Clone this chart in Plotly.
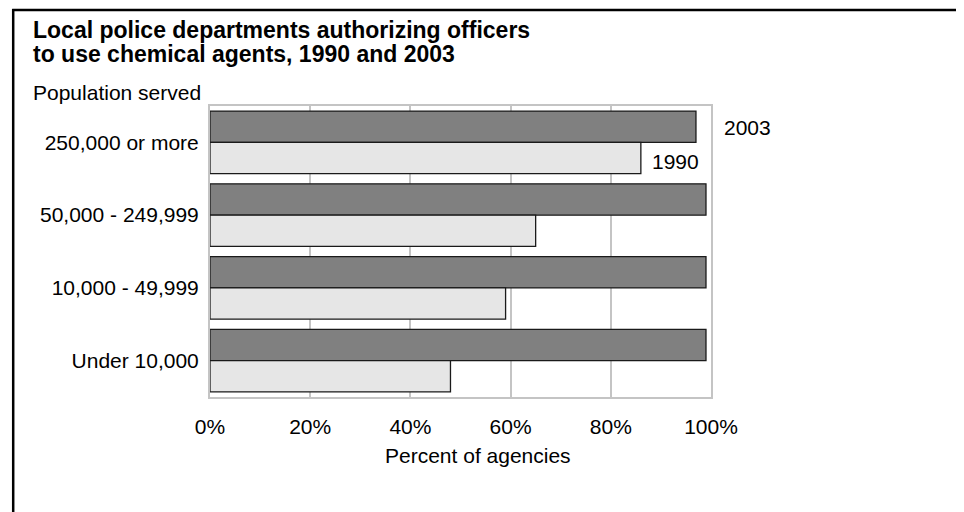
import plotly.graph_objects as go

# --- data ------------------------------------------------------------------
categories = ["250,000 or more", "50,000 - 249,999", "10,000 - 49,999", "Under 10,000"]
pct_2003 = [97, 99, 99, 99]
pct_1990 = [86, 65, 59, 48]
x_ticks = [0, 20, 40, 60, 80, 100]
x_tick_labels = ["0%", "20%", "40%", "60%", "80%", "100%"]

title_lines = ["Local police departments authorizing officers",
               "to use chemical agents, 1990 and 2003"]

W, H = 964, 512
OFF = 8  # page body margin: the figure starts 8px in from the window corner
# plot area in window pixels
PL, PR, PT, PB = 209.5, 711.0, 106.0, 397.0
FONT = "Liberation Sans, Arial, Helvetica, sans-serif"


def px(x):
    return (x - PL) / (PR - PL)


def py(y):
    return (PB - y) / (PB - PT)


fig = go.Figure()
fig.add_trace(go.Bar(
    y=categories, x=pct_2003, orientation="h", name="2003",
    marker=dict(color="#808080", line=dict(color="#1a1a1a", width=1.3)),
    hoverinfo="x+y"))
fig.add_trace(go.Bar(
    y=categories, x=pct_1990, orientation="h", name="1990",
    marker=dict(color="#e6e6e6", line=dict(color="#1a1a1a", width=1.3)),
    hoverinfo="x+y"))

grid = "#c4c4c4"
fig.update_xaxes(range=[0, 100], tickvals=x_ticks, ticktext=x_tick_labels,
                 showgrid=True, gridcolor=grid, gridwidth=2,
                 zeroline=False, showline=True, linecolor=grid, linewidth=2,
                 mirror=True, ticks="", ticklabelstandoff=10,
                 tickfont=dict(family=FONT, size=21, color="#000"))
fig.update_yaxes(autorange="reversed", showgrid=False, zeroline=False,
                 showline=True, linecolor=grid, linewidth=2, mirror=True,
                 ticks="", ticklabelstandoff=5,
                 tickfont=dict(family=FONT, size=21, color="#000"))

ann = []
# title, two tightly spaced lines
for txt, yc in zip(title_lines, (30, 54)):
    ann.append(dict(text=f"<b>{txt}</b>", xref="paper", yref="paper",
                    x=px(30), y=py(yc), xanchor="left", yanchor="middle",
                    showarrow=False, font=dict(family=FONT, size=23, color="#000")))
ann.append(dict(text="Population served", xref="paper", yref="paper",
                x=px(30), y=py(93), xanchor="left", yanchor="middle",
                showarrow=False, font=dict(family=FONT, size=21, color="#000")))
ann.append(dict(text="Percent of agencies", xref="paper", yref="paper",
                x=px(478), y=py(455), xanchor="center", yanchor="middle",
                showarrow=False, font=dict(family=FONT, size=21, color="#000")))
# series labels next to the top group
ann.append(dict(text="2003", xref="x", yref="y", x=100, y=categories[0],
                xanchor="left", yanchor="middle", xshift=11, yshift=15,
                showarrow=False, font=dict(family=FONT, size=21, color="#000")))
ann.append(dict(text="1990", xref="x", yref="y", x=pct_1990[0], y=categories[0],
                xanchor="left", yanchor="middle", xshift=9, yshift=-19,
                showarrow=False, font=dict(family=FONT, size=21, color="#000")))

shapes = [
    dict(type="line", xref="paper", yref="paper",
         x0=px(12.5), x1=px(12.5), y0=py(9), y1=py(530),
         line=dict(color="#000", width=2.5)),
    dict(type="line", xref="paper", yref="paper",
         x0=px(11.5), x1=px(980), y0=py(10), y1=py(10),
         line=dict(color="#000", width=2.5)),
]

fig.update_layout(
    width=W - OFF, height=H - OFF, barmode="group", bargap=0.14, bargroupgap=0,
    margin=dict(l=PL - OFF, r=W - PR, t=PT - OFF, b=H - PB),
    paper_bgcolor="white", plot_bgcolor="white",
    showlegend=False, annotations=ann, shapes=shapes,
)

fig.write_html("out.html")
